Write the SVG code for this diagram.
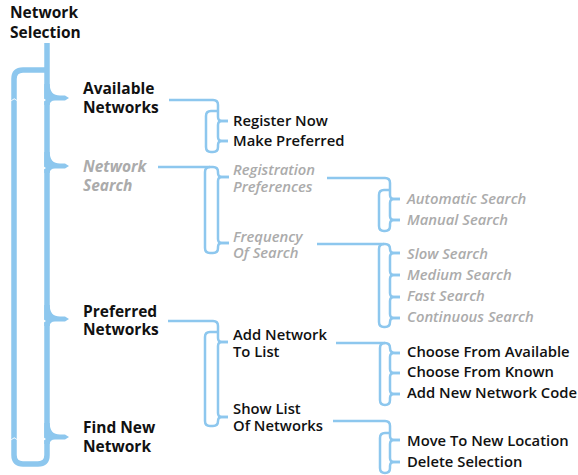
<svg xmlns="http://www.w3.org/2000/svg" width="578" height="475" viewBox="0 0 578 475">
<style>
.b0{fill:none;stroke:#8dc7ee;stroke-width:5.5}
.b{fill:none;stroke:#8dc7ee;stroke-width:2.5}
.tip{fill:#8dc7ee}
.n{fill:#fff}
text{font-family:"Open Sans","Liberation Sans",sans-serif;font-weight:600;font-size:14.8px;fill:#111}
.l0{font-size:15.5px;font-weight:700}
.g{fill:#ababab;font-style:italic}
</style>
<rect width="578" height="475" fill="#fff"/>
<g id="connectors">
  <!-- level 0 brace -->
  <path class="b0" d="M47,43 V455 Q47,464 38,464 H23 Q14,464 14,455 V79 Q14,70 23,70 H47"/>
  <path class="tip" d="M44.25,84 L49.75,84 Q49.75,95.5 60,95.5 L65,95.5 L69,98 L65,100.5 L55,100.5 Q49.75,100.5 49.75,105 L44.25,105 Z"/>
  <path class="tip" d="M44.25,152 L49.75,152 Q49.75,163.5 60,163.5 L65,163.5 L69,166 L65,168.5 L55,168.5 Q49.75,168.5 49.75,173 L44.25,173 Z"/>
  <path class="tip" d="M44.25,305 L49.75,305 Q49.75,316.5 60,316.5 L65,316.5 L69,319 L65,321.5 L55,321.5 Q49.75,321.5 49.75,326 L44.25,326 Z"/>
  <path class="tip" d="M44.25,423 L49.75,423 Q49.75,434.5 60,434.5 L65,434.5 L69,437 L65,439.5 L55,439.5 Q49.75,439.5 49.75,444 L44.25,444 Z"/>
  <path class="n" d="M43.8,98.5 L46,100 L43.8,101.5 Z M43.8,166.5 L46,168 L43.8,169.5 Z M43.8,319.5 L46,321 L43.8,322.5 Z M43.8,437.5 L46,439 L43.8,440.5 Z"/>
  <path class="n" d="M11,100.5 L14.25,98.3 L17.5,100.5 L17.5,101.2 L14.25,99.2 L11,101.2 Z M11,439.5 L14.25,437.3 L17.5,439.5 L17.5,440.2 L14.25,438.2 L11,440.2 Z"/>

  <!-- Available Networks -->
  <path class="b" d="M169,100 H213 Q218,100 218,105 V117 Q218,121 222,121 H228"/>
  <path class="b" d="M228,121 H222 Q218,121 218,125 V137 Q218,141 222,141 H228"/>
  <path class="b" d="M228,141 H222 Q218,141 218,145 V147 Q218,152 213,152 H211 Q206,152 206,147 V116 Q206,111 211,111 H218"/>

  <!-- Network Search -->
  <path class="b" d="M158,167 H213 Q218,167 218,172 V173 Q218,177 222,177 H229"/>
  <path class="b" d="M229,177 H222 Q218,177 218,181 V239 Q218,243 222,243 H229"/>
  <path class="b" d="M229,243 H222 Q218,243 218,247 V248 Q218,253 213,253 H210 Q205,253 205,248 V172 Q205,167 210,167"/>

  <!-- Preferred Networks -->
  <path class="b" d="M168,321 H213 Q218,321 218,326 V338 Q218,342 222,342 H228"/>
  <path class="b" d="M228,342 H222 Q218,342 218,346 V413 Q218,417 222,417 H228"/>
  <path class="b" d="M228,417 H222 Q218,417 218,421 Q218,426 213,426 H210 Q205,426 205,421 V337 Q205,332 210,332 H218"/>

  <!-- Registration Preferences -->
  <path class="b" d="M327,178 H385 Q390,178 390,183 V195 Q390,199 394,199 H400"/>
  <path class="b" d="M400,199 H394 Q390,199 390,203 V216 Q390,220 394,220 H400"/>
  <path class="b" d="M400,220 H394 Q390,220 390,224 V226 Q390,231 385,231 H384 Q379,231 379,226 V195 Q379,190 384,190 H390"/>

  <!-- Frequency Of Search -->
  <path class="b" d="M317,244 H385 Q390,244 390,249 Q390,253 394,253 H400"/>
  <path class="b" d="M400,253 H394 Q390,253 390,257 V271 Q390,275 394,275 H400"/>
  <path class="b" d="M400,275 H394 Q390,275 390,279 V293 Q390,297 394,297 H400"/>
  <path class="b" d="M400,297 H394 Q390,297 390,301 V314 Q390,318 394,318 H400"/>
  <path class="b" d="M400,318 H394 Q390,318 390,322 Q390,327 385,327 H384 Q379,327 379,322 V249 Q379,244 384,244"/>

  <!-- Add Network To List -->
  <path class="b" d="M336,343 H385 Q390,343 390,348 Q390,353 395,353 H400"/>
  <path class="b" d="M400,353 H394 Q390,353 390,357 V369 Q390,373 394,373 H400"/>
  <path class="b" d="M400,373 H394 Q390,373 390,377 V390 Q390,394 394,394 H400"/>
  <path class="b" d="M400,394 H394 Q390,394 390,398 V400 Q390,405 385,405 Q380,405 380,400 V348 Q380,343 385,343"/>

  <!-- Show List Of Networks -->
  <path class="b" d="M333,421 H385 Q390,421 390,426 V436 Q390,440 394,440 H400"/>
  <path class="b" d="M400,440 H394 Q390,440 390,444 V458 Q390,462 394,462 H400"/>
  <path class="b" d="M400,462 H394 Q390,462 390,466 V468 Q390,473 385,473 Q380,473 380,468 V438 Q380,433 385,433 H390"/>
</g>

<g id="network-selection"><text class="l0" x="10" y="18">Network<tspan x="10" y="38">Selection</tspan></text></g>

<g id="available-networks"><text class="l0" x="83" y="94">Available<tspan x="83" y="113">Networks</tspan></text></g>
<g id="network-search"><text class="l0 g" x="83" y="172">Network<tspan x="83" y="191">Search</tspan></text></g>
<g id="preferred-networks"><text class="l0" x="83" y="317">Preferred<tspan x="83" y="335">Networks</tspan></text></g>
<g id="find-new-network"><text class="l0" x="83" y="433">Find New<tspan x="83" y="452">Network</tspan></text></g>

<g id="register-now"><text x="233" y="126">Register Now</text></g>
<g id="make-preferred"><text x="233" y="146">Make Preferred</text></g>
<g id="registration-preferences"><text class="g" x="233" y="175">Registration<tspan x="233" y="192">Preferences</tspan></text></g>
<g id="frequency-of-search"><text class="g" x="233" y="242">Frequency<tspan x="233" y="258">Of Search</tspan></text></g>
<g id="add-network-to-list"><text x="233" y="340">Add Network<tspan x="233" y="357">To List</tspan></text></g>
<g id="show-list-of-networks"><text x="233" y="414">Show List<tspan x="233" y="431">Of Networks</tspan></text></g>

<g id="automatic-search"><text class="g" x="407" y="204">Automatic Search</text></g>
<g id="manual-search"><text class="g" x="407" y="225">Manual Search</text></g>
<g id="slow-search"><text class="g" x="407" y="259">Slow Search</text></g>
<g id="medium-search"><text class="g" x="407" y="280">Medium Search</text></g>
<g id="fast-search"><text class="g" x="407" y="301">Fast Search</text></g>
<g id="continuous-search"><text class="g" x="407" y="322">Continuous Search</text></g>
<g id="choose-from-available"><text x="407" y="357">Choose From Available</text></g>
<g id="choose-from-known"><text x="407" y="377">Choose From Known</text></g>
<g id="add-new-network-code"><text x="407" y="398">Add New Network Code</text></g>
<g id="move-to-new-location"><text x="407" y="446">Move To New Location</text></g>
<g id="delete-selection"><text x="407" y="467">Delete Selection</text></g>
</svg>
